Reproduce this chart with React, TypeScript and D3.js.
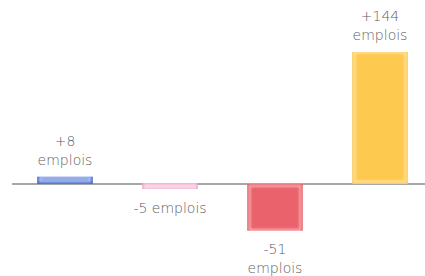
import React, { useEffect, useRef } from 'react';
import * as d3 from 'd3';

// categories, values and the label shown above/below each bar
const keys = ['a', 'b', 'c', 'd'];
const values = [8, -5, -51, 144];
const labels = ['+8\nemplois', '-5 emplois', '-51\nemplois', '+144\nemplois'];
const colors = ['#3f68d9', '#f1a6cb', '#ea636c', '#fec94f'];

const width = 425;
const height = 276;

function App() {
  const ref = useRef<SVGSVGElement>(null);

  useEffect(() => {
    if (!ref.current) return;
    const svg = d3.select(ref.current);
    svg.selectAll('*').remove();

    const x = d3.scaleBand<string>()
      .domain(keys)
      .range([12.5, 432.5])
      .paddingInner(0.47)
      .paddingOuter(0.235);

    const y = d3.scaleLinear()
      .domain([0, d3.max(values) as number])
      .range([184, 52]);

    // soft inner glow on the bars
    const defs = svg.append('defs');
    defs.append('filter')
      .attr('id', 'glow')
      .attr('x', '-20%').attr('y', '-50%').attr('width', '140%').attr('height', '200%')
      .append('feGaussianBlur')
      .attr('stdDeviation', 1.1);

    const data = keys.map((k, i) => ({ k, v: values[i], label: labels[i], color: colors[i] }));

    // baseline
    svg.append('line')
      .attr('x1', 12).attr('x2', width)
      .attr('y1', y(0)).attr('y2', y(0))
      .attr('stroke', '#8a8a8a')
      .attr('stroke-width', 1.5);

    const bars = svg.append('g');
    data.forEach(d => {
      const x0 = x(d.k) as number;
      const w = x.bandwidth();
      let top = Math.min(y(d.v), y(0));
      let h = Math.abs(y(d.v) - y(0));
      if (h < 6) {
        // thin bars get a minimum height around the baseline
        top = d.v > 0 ? top - (6 - h) + 1 : top - 1;
        h = 6;
      }
      const g = bars.append('g');
      g.append('rect')
        .attr('x', x0).attr('y', top)
        .attr('width', w).attr('height', h)
        .attr('fill', d.color);
      g.append('rect')
        .attr('x', x0 + 2.5).attr('y', top + (d.v > 0 ? 0.5 : 2))
        .attr('width', w - 5).attr('height', Math.max(h - 3, 1))
        .attr('fill', h < 10 ? '#fff' : 'none')
        .attr('fill-opacity', 0.35)
        .attr('stroke', '#fff')
        .attr('stroke-opacity', 0.65)
        .attr('stroke-width', 1.5)
        .attr('filter', 'url(#glow)');
    });

    // value labels
    const lineH = 19;
    data.forEach(d => {
      const lines = d.label.split('\n');
      const cx = (x(d.k) as number) + x.bandwidth() / 2;
      let firstBase: number;
      if (d.v > 0) {
        firstBase = Math.min(y(d.v), y(0) - 6) - 12 - (lines.length - 1) * lineH;
      } else {
        firstBase = Math.max(y(d.v), y(0) + 6) + 23;
      }
      const t = svg.append('text')
        .attr('text-anchor', 'middle')
        .attr('font-family', '"DejaVu Sans", sans-serif')
        .attr('font-weight', 200)
        .attr('font-size', 14)
        .attr('fill', '#606060');
      lines.forEach((l, i) => {
        t.append('tspan')
          .attr('x', cx)
          .attr('y', firstBase + i * lineH)
          .text(l);
      });
    });
  }, []);

  return (
    <svg
      ref={ref}
      width={width}
      height={height}
      style={{ position: 'absolute', left: 0, top: 0, background: '#fff' }}
    />
  );
}

export default App;
